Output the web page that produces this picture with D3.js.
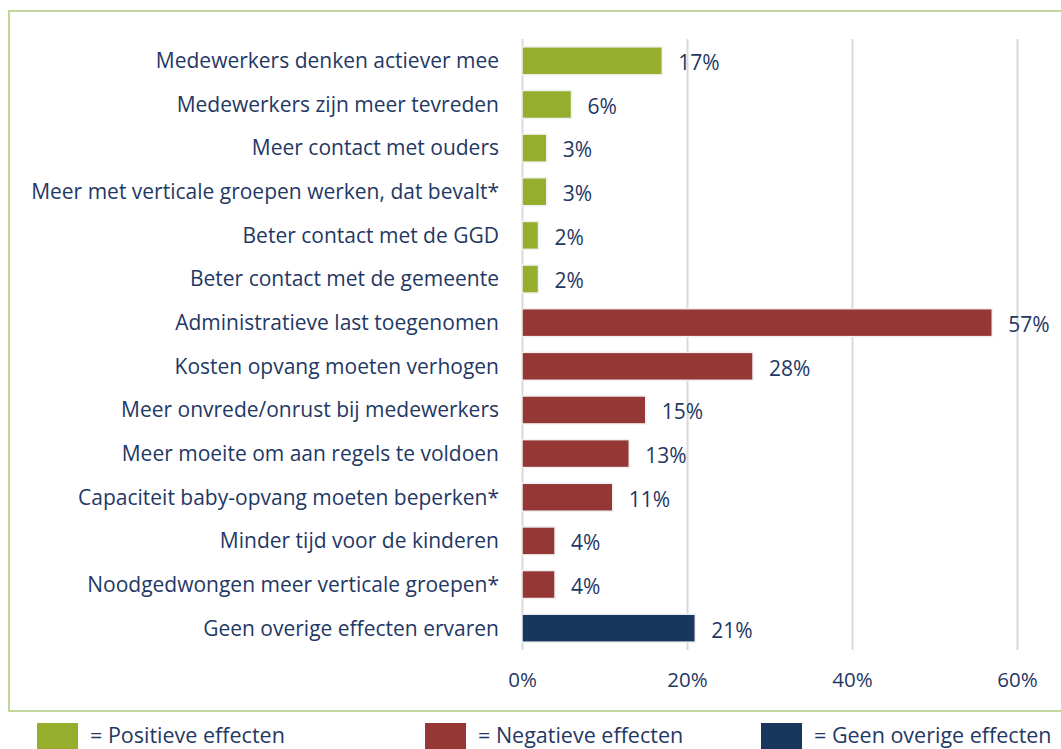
<!DOCTYPE html>
<html>
<head>
<meta charset="utf-8">
<script src="https://cdn.jsdelivr.net/npm/d3@7"></script>
<style>
  body { margin: 0; background: #fff; }
  svg { display: block; font-family: "Open Sans", Lato, sans-serif; }
  .axis path { display: none; }
  .axis line { stroke: #d9d9d9; stroke-width: 2; }
  .axis text { fill: #1f3864; font-size: 20.5px; font-family: "Open Sans", sans-serif; }
</style>
</head>
<body>
<div class="chart"></div>
<script>
'use strict';

const categories = [
    'Medewerkers denken actiever mee',
    'Medewerkers zijn meer tevreden',
    'Meer contact met ouders',
    'Meer met verticale groepen werken, dat bevalt*',
    'Beter contact met de GGD',
    'Beter contact met de gemeente',
    'Administratieve last toegenomen',
    'Kosten opvang moeten verhogen',
    'Meer onvrede/onrust bij medewerkers',
    'Meer moeite om aan regels te voldoen',
    'Capaciteit baby-opvang moeten beperken*',
    'Minder tijd voor de kinderen',
    'Noodgedwongen meer verticale groepen*',
    'Geen overige effecten ervaren'
];
const values = [17, 6, 3, 3, 2, 2, 57, 28, 15, 13, 11, 4, 4, 21];
const groups = ['pos', 'pos', 'pos', 'pos', 'pos', 'pos',
    'neg', 'neg', 'neg', 'neg', 'neg', 'neg', 'neg', 'none'];
const ticks = [0, 20, 40, 60];
const legendLabels = ['= Positieve effecten', '= Negatieve effecten', '= Geen overige effecten'];
const groupKeys = ['pos', 'neg', 'none'];

const colors = {pos: '#95ae2e', neg: '#953735', none: '#17375e'};
const textColor = '#1f3864';

const W = 1061, H = 749;
const plot = {left: 522, right: 1017, top: 39, bottom: 650};

const data = categories.map((c, i) => ({name: c, value: values[i], group: groups[i]}));

const svg = d3.select('.chart').append('svg')
    .attr('width', W)
    .attr('height', H);

// frame (right side runs off the page)
svg.append('rect')
    .attr('x', 9).attr('y', 11)
    .attr('width', W + 20).attr('height', 700)
    .attr('fill', 'none')
    .attr('stroke', '#c3d69b')
    .attr('stroke-width', 2);

const xScale = d3.scaleLinear()
    .domain([0, 60])
    .range([plot.left, plot.right]);

const yScale = d3.scaleBand()
    .domain(categories)
    .range([plot.top, plot.bottom])
    .paddingInner(0.36)
    .paddingOuter(0.18);

// gridlines + tick labels
svg.append('g')
    .attr('class', 'axis axis--x')
    .attr('transform', `translate(0,${plot.bottom})`)
    .call(d3.axisBottom(xScale)
        .tickValues(ticks)
        .tickSize(-(plot.bottom - plot.top))
        .tickPadding(22)
        .tickFormat(d => d + '%'));

svg.append('g')
    .attr('class', 'bars-g')
    .selectAll('.bar')
    .data(data)
    .join('rect')
    .attr('class', 'bar')
    .attr('x', xScale(0))
    .attr('y', d => yScale(d.name))
    .attr('width', d => xScale(d.value) - xScale(0))
    .attr('height', yScale.bandwidth())
    .attr('fill', d => colors[d.group])
    .attr('stroke', '#f0f0f0')
    .attr('stroke-width', 1.5);

// category labels
svg.append('g')
    .selectAll('text')
    .data(data)
    .join('text')
    .attr('x', plot.left - 23)
    .attr('y', d => yScale(d.name) + yScale.bandwidth() / 2)
    .attr('dy', '0.35em')
    .attr('text-anchor', 'end')
    .attr('fill', textColor)
    .attr('font-size', 21)
    .text(d => d.name);

// value labels
svg.append('g')
    .selectAll('text')
    .data(data)
    .join('text')
    .attr('x', d => xScale(d.value) + 16)
    .attr('y', d => yScale(d.name) + yScale.bandwidth() / 2 + 2)
    .attr('dy', '0.35em')
    .attr('fill', textColor)
    .attr('font-size', 21)
    .text(d => d.value + '%');

// legend
const legendX = [37, 425, 761];
const legend = svg.append('g')
    .selectAll('g')
    .data(groupKeys)
    .join('g')
    .attr('transform', (d, i) => `translate(${legendX[i]},723)`);

legend.append('rect')
    .attr('width', 41)
    .attr('height', 26)
    .attr('fill', d => colors[d]);

legend.append('text')
    .attr('x', 53)
    .attr('y', 20)
    .attr('fill', textColor)
    .attr('font-size', 21.5)
    .text((d, i) => legendLabels[i]);
</script>
</body>
</html>
